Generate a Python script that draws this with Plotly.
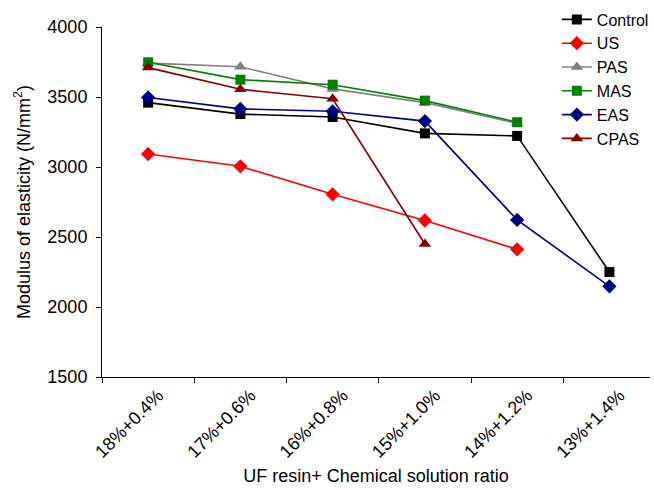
import plotly.graph_objects as go

categories = ["18%+0.4%", "17%+0.6%", "16%+0.8%", "15%+1.0%", "14%+1.2%", "13%+1.4%"]
control = [3460, 3378, 3357, 3240, 3222, 2250]
us = [3093, 3005, 2805, 2618, 2412, None]
pas = [3742, 3716, 3558, 3460, 3312, None]
mas = [3748, 3624, 3588, 3474, 3320, None]
eas = [3497, 3415, 3398, 3328, 2622, 2148]
cpas = [3710, 3555, 3487, 2450, None, None]

series = [
    ("Control", control, "#000000", "square", 10),
    ("US", us, "#FF0000", "diamond", 11),
    ("PAS", pas, "#808080", "triangle-up", 11),
    ("MAS", mas, "#008000", "square", 10),
    ("EAS", eas, "#000080", "diamond", 11),
    ("CPAS", cpas, "#800000", "triangle-up", 11),
]

fig = go.Figure()
for name, vals, color, sym, size in series:
    xs = [c for c, v in zip(categories, vals) if v is not None]
    ys = [v for v in vals if v is not None]
    fig.add_trace(go.Scatter(
        x=xs, y=ys, name=name, mode="lines+markers",
        line=dict(color=color, width=1.6),
        marker=dict(symbol=sym, size=size, color=color),
    ))

fig.update_layout(
    width=654, height=490,
    margin=dict(l=102, r=0, t=27, b=113),
    plot_bgcolor="white", paper_bgcolor="white",
    font=dict(family="Liberation Sans, Arial, sans-serif", size=18, color="#000000"),
    showlegend=True,
    legend=dict(x=0.83, y=1.07, xanchor="left", yanchor="top",
                font=dict(size=16), bgcolor="rgba(0,0,0,0)", tracegroupgap=0),
)
fig.update_xaxes(
    type="category", categoryorder="array", categoryarray=categories,
    range=[-0.5, 5.44], showline=True, linecolor="#000000", linewidth=1,
    ticks="outside", tickson="boundaries", ticklen=5, tickcolor="#000000",
    tickangle=-45, showgrid=False, zeroline=False, ticklabelshift=10,
    tickfont=dict(size=18),
    title=dict(text="UF resin+ Chemical solution ratio", font=dict(size=18), standoff=8),
)
fig.update_yaxes(
    range=[1500, 4000], dtick=500, tick0=1500,
    showline=True, linecolor="#000000", linewidth=1,
    ticks="outside", ticklen=5, tickcolor="#000000",
    showgrid=False, zeroline=False, ticklabelstandoff=5,
    tickfont=dict(size=18),
    title=dict(text="Modulus of elasticity (N/mm<sup>2</sup>)", font=dict(size=18), standoff=12),
)

fig.write_html("out.html")
